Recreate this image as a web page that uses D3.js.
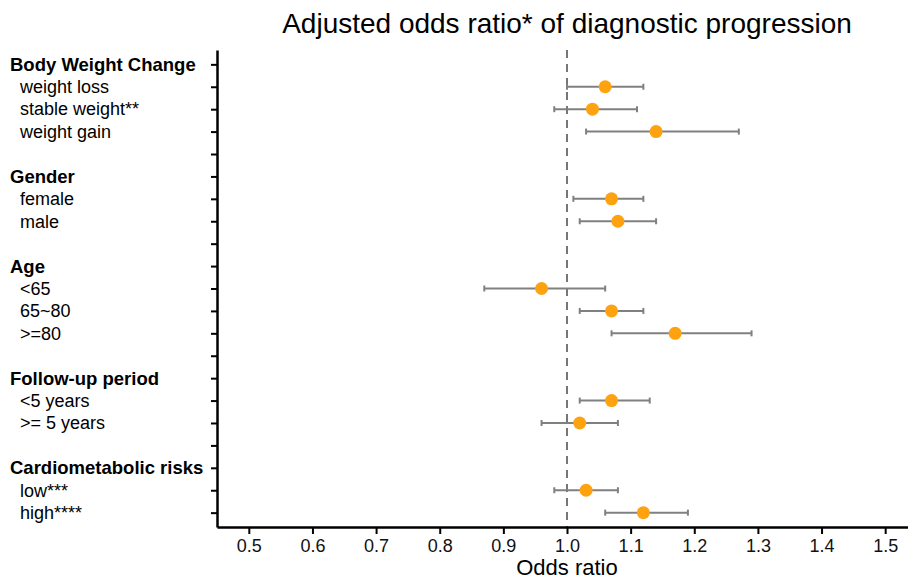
<!DOCTYPE html>
<html>
<head>
<meta charset="utf-8">
<script src="https://cdn.jsdelivr.net/npm/d3@7"></script>
<style>
  body { margin: 0; background: #fff; }
  svg { display: block; font-family: "Liberation Sans", Arial, Helvetica, sans-serif; }
</style>
</head>
<body>
<svg id="chart" width="908" height="580"></svg>
<script>
    'use strict';

    // rows top to bottom; header rows have no estimate
    var rowLabels = [
        'Body Weight Change', 'weight loss', 'stable weight**', 'weight gain', '',
        'Gender', 'female', 'male', '',
        'Age', '<65', '65~80', '>=80', '',
        'Follow-up period', '<5 years', '>= 5 years', '',
        'Cardiometabolic risks', 'low***', 'high****'
    ];
    var headerRows = ['Body Weight Change', 'Gender', 'Age', 'Follow-up period', 'Cardiometabolic risks'];

    var itemLabels = ['weight loss', 'stable weight**', 'weight gain', 'female', 'male',
        '<65', '65~80', '>=80', '<5 years', '>= 5 years', 'low***', 'high****'];
    var oddsRatio = [1.06, 1.04, 1.14, 1.07, 1.08, 0.96, 1.07, 1.17, 1.07, 1.02, 1.03, 1.12];
    var ciLower   = [1.00, 0.98, 1.03, 1.01, 1.02, 0.87, 1.02, 1.07, 1.02, 0.96, 0.98, 1.06];
    var ciUpper   = [1.12, 1.11, 1.27, 1.12, 1.14, 1.06, 1.12, 1.29, 1.13, 1.08, 1.08, 1.19];
    var xTicks = [0.5, 0.6, 0.7, 0.8, 0.9, 1.0, 1.1, 1.2, 1.3, 1.4, 1.5];

    var svg = d3.select('#chart');
    var plotLeft = 217, plotRight = 917, plotTop = 50, plotBottom = 527;

    var x = d3.scaleLinear().domain([0.45, 1.55]).range([plotLeft, plotRight]);
    var y = d3.scalePoint().domain(d3.range(rowLabels.length)).range([plotTop, plotBottom]).padding(0.64);

    var rows = itemLabels.map(function(lab, i) {
        return { label: lab, or: oddsRatio[i], lo: ciLower[i], hi: ciUpper[i], row: rowLabels.indexOf(lab) };
    });

    // title
    svg.append('text')
        .attr('x', 567).attr('y', 33)
        .attr('text-anchor', 'middle')
        .style('font-size', '28px')
        .text('Adjusted odds ratio* of diagnostic progression');

    // reference line at 1
    svg.append('line')
        .attr('x1', x(1)).attr('x2', x(1))
        .attr('y1', plotTop).attr('y2', plotBottom)
        .attr('stroke', '#555').attr('stroke-width', 1.6)
        .attr('stroke-dasharray', '8,6');

    // x axis
    var xAxis = svg.append('g')
        .attr('transform', 'translate(0,' + plotBottom + ')')
        .call(d3.axisBottom(x).tickValues(xTicks).tickFormat(d3.format('.1f')).tickSizeInner(7).tickSizeOuter(0).tickPadding(5));
    xAxis.select('.domain').attr('stroke', '#000').attr('stroke-width', 2.5);
    xAxis.selectAll('.tick line').attr('stroke', '#000').attr('stroke-width', 2);
    xAxis.selectAll('.tick text').style('font-size', '18px').attr('fill', '#111');

    // y axis with a tick for each row, labels drawn separately
    var yAxis = svg.append('g')
        .attr('transform', 'translate(' + plotLeft + ',0)')
        .call(d3.axisLeft(y).tickFormat('').tickSizeInner(6).tickSizeOuter(0));
    yAxis.select('.domain').attr('stroke', '#000').attr('stroke-width', 2.5);
    yAxis.selectAll('.tick line').attr('stroke', '#000').attr('stroke-width', 2);

    svg.append('g').selectAll('text')
        .data(rowLabels.map(function(d, i) { return { label: d, row: i }; }).filter(function(d) { return d.label; }))
        .enter().append('text')
        .attr('x', function(d) { return headerRows.indexOf(d.label) >= 0 ? 10 : 20; })
        .attr('y', function(d) { return y(d.row); })
        .attr('dy', '0.35em')
        .style('font-size', function(d) { return headerRows.indexOf(d.label) >= 0 ? '18.5px' : '18px'; })
        .style('font-weight', function(d) { return headerRows.indexOf(d.label) >= 0 ? 'bold' : 'normal'; })
        .text(function(d) { return d.label; });

    // x axis title
    svg.append('text')
        .attr('x', 567).attr('y', 575)
        .attr('text-anchor', 'middle')
        .style('font-size', '22px')
        .text('Odds ratio');

    // error bars
    var bars = svg.append('g').selectAll('g').data(rows).enter().append('g')
        .attr('stroke', '#808080').attr('stroke-width', 2);
    bars.append('line')
        .attr('x1', function(d) { return x(d.lo); }).attr('x2', function(d) { return x(d.hi); })
        .attr('y1', function(d) { return y(d.row); }).attr('y2', function(d) { return y(d.row); });
    bars.append('line')
        .attr('x1', function(d) { return x(d.lo); }).attr('x2', function(d) { return x(d.lo); })
        .attr('y1', function(d) { return y(d.row) - 3; }).attr('y2', function(d) { return y(d.row) + 3; });
    bars.append('line')
        .attr('x1', function(d) { return x(d.hi); }).attr('x2', function(d) { return x(d.hi); })
        .attr('y1', function(d) { return y(d.row) - 3; }).attr('y2', function(d) { return y(d.row) + 3; });

    // points
    svg.append('g').selectAll('circle').data(rows).enter().append('circle')
        .attr('cx', function(d) { return x(d.or); })
        .attr('cy', function(d) { return y(d.row); })
        .attr('r', 6.5)
        .attr('fill', '#FFA20F');
</script>
</body>
</html>
